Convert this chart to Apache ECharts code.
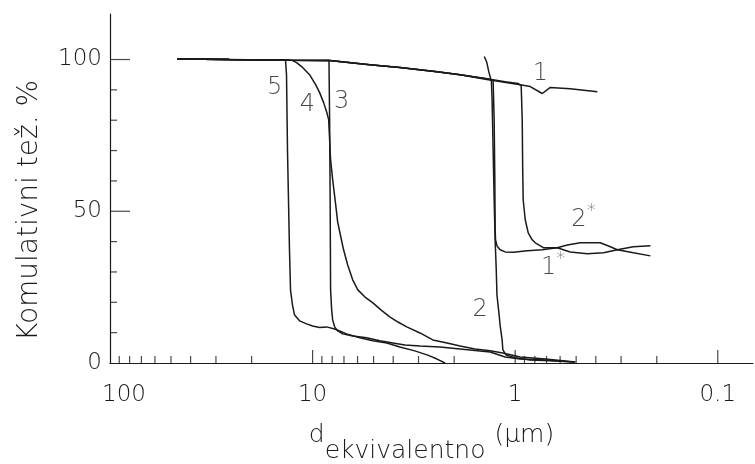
<!DOCTYPE html>
<html><head><meta charset="utf-8">
<script src="https://cdn.jsdelivr.net/npm/echarts@6/dist/echarts.min.js"></script>
<style>html,body{margin:0;padding:0;background:#fff}#c{width:755px;height:464px}</style>
</head><body><div id="c"></div>
<script>
// x: equivalent diameter (µm, log scale, reversed), y: cumulative weight %
const curve1 = [[46.6,100.2],[25.8,100],[13,99.8],[8.24,99.7],[5.22,98.3],[3.71,97.4],[2.43,96],[1.87,95],[1.38,93.4],[0.945,91.7],[0.843,91.1],[0.735,88.8],[0.671,90.8],[0.535,90.4],[0.393,89.4]];
const curve2 = [[1.42,101],[1.38,99],[1.35,96],[1.31,92.7],[1.3,86.8],[1.285,70.3],[1.27,53.8],[1.256,40.6],[1.24,30.7],[1.23,22.4],[1.2,15.8],[1.187,12.5],[1.16,7.6],[1.15,4.3],[1.108,2.6],[1.0,1.7],[0.843,1.0],[0.671,0.7],[0.505,0.3]];
const curve3 = [[46.6,100.2],[25.8,100],[13,99.8],[8.3,99.7],[8.24,80.2],[8.19,53.8],[8.15,24.1],[8.05,17.5],[7.96,14.2],[7.78,11.9],[7.52,10.6],[7.1,9.6],[6.34,8.9],[5.41,8.3],[4.66,7.3],[4.02,6.6],[3.5,5.9],[2.95,5.6],[2.35,5.3],[1.87,4.6],[1.33,3.6],[1.12,2.0],[0.945,1.3],[0.71,1.0],[0.516,0.3]];
const curve4 = [[46.6,100.2],[25.8,100],[12.7,99.8],[12.0,99.0],[11.2,97.4],[10.35,95],[9.66,91.7],[9.23,89.1],[8.82,85.8],[8.53,82.8],[8.33,80.2],[8.24,73.6],[8.15,67],[7.96,60.4],[7.69,52.1],[7.52,46.5],[7.26,41.6],[7.03,37.3],[6.71,32.3],[6.34,27.4],[5.98,24.1],[5.53,21.8],[5.04,19.8],[4.6,17.5],[4.16,15.2],[3.79,13.5],[3.43,11.9],[2.95,9.9],[2.55,7.6],[2.17,6.6],[1.87,5.6],[1.58,4.6],[1.33,4.0],[1.15,3.3],[0.945,2.0],[0.71,1.3],[0.505,0.3]];
const curve5 = [[46.6,100.2],[25.8,100],[13.6,99.8],[13.45,95],[13.3,70],[13.0,37],[12.85,24],[12.56,19],[12.27,15.8],[11.6,13.9],[10.7,12.9],[10,12.2],[9.23,11.7],[8.53,11.9],[7.78,11.2],[6.79,9.6],[5.85,8.3],[5.04,7.3],[4.3,6.6],[3.71,5.3],[3.13,4],[2.7,2.6],[2.43,1.3],[2.22,0]];
const curve1s = [[46.6,100.2],[25.8,100],[13,99.8],[8.24,99.7],[5.22,98.3],[3.71,97.4],[2.43,96],[1.87,95],[1.38,93.7],[1.285,93.1],[1.27,80.2],[1.26,60.4],[1.256,43.9],[1.25,40.6],[1.23,38.6],[1.187,37.3],[1.12,36.6],[1.02,36.5],[0.872,37],[0.735,37.3],[0.62,38],[0.535,36.6],[0.44,36],[0.366,36.3],[0.313,37.3],[0.261,36.3],[0.215,35.3]];
const curve2s = [[46.6,100.2],[25.8,100],[13,99.8],[8.24,99.7],[5.22,98.3],[3.71,97.4],[2.43,96],[1.87,95],[1.38,93.7],[1.12,92.7],[0.966,92.1],[0.934,91.4],[0.923,80.2],[0.918,63.7],[0.913,53.8],[0.892,47.2],[0.862,42.9],[0.824,40.6],[0.796,39.6],[0.726,38],[0.62,38],[0.553,38.9],[0.477,39.6],[0.38,39.6],[0.339,38.3],[0.313,37.3],[0.261,38.3],[0.215,38.6]];

const curveLabels = [
  {name:'1', value:[0.75, 95.4]},
  {name:'2', value:[1.49, 17.5]},
  {name:'3', value:[7.18, 86.1]},
  {name:'4', value:[10.6, 85.1]},
  {name:'5', value:[15.4, 90.8]},
  {name:'1*', value:[0.65, 31.4]},
  {name:'2*', value:[0.46, 47.2]}
];

const xTickLabels = [100, 10, 1, 0.1];
const yTickLabels = [0, 50, 100];
const xMinorTicks = [90,80,70,60,50,40,30,20,9,8,7,6,5,4,3,2,0.9,0.8,0.7,0.6,0.5,0.4,0.3,0.2];
const xMajorTicks = [10, 1, 0.1];
const yMinorTicks = [10,20,30,40,60,70,80,90];
const yMajorTicks = [50, 100];

const INK = '#1a1a1a';
const FONT = "'DejaVu Sans', sans-serif";
const W = 200;

function isIn(list, v) { return list.some(t => Math.abs(Math.log10(Math.max(v,1e-9)) - Math.log10(Math.max(t,1e-9))) < 1e-6); }

const curves = [curve1, curve2, curve3, curve4, curve5, curve1s, curve2s];
const names = ['1','2','3','4','5','1*','2*'];

const series = curves.map((d, i) => ({
  name: names[i], type: 'line', data: d, showSymbol: false, symbol: 'none',
  lineStyle: {color: INK, width: 1.5}, z: 3, silent: true
}));

series.push({
  type: 'scatter', data: xMinorTicks.map(v => [v, 0]), symbol: 'rect',
  symbolSize: [1.2, 7], symbolOffset: [0, -3.5], itemStyle: {color: INK}, clip: false, silent: true, z: 2
});
series.push({
  type: 'scatter', data: xMajorTicks.map(v => [v, 0]), symbol: 'rect',
  symbolSize: [1.2, 13], symbolOffset: [0, -6.5], itemStyle: {color: INK}, clip: false, silent: true, z: 2
});
series.push({
  type: 'scatter', data: yMinorTicks.map(v => [100, v]), symbol: 'rect',
  symbolSize: [7, 1.2], symbolOffset: [3.5, 0], itemStyle: {color: INK}, clip: false, silent: true, z: 2
});
series.push({
  type: 'scatter', data: yMajorTicks.map(v => [100, v]), symbol: 'rect',
  symbolSize: [20, 1.2], symbolOffset: [10, 0], itemStyle: {color: INK}, clip: false, silent: true, z: 2
});
series.push({
  type: 'scatter', data: curveLabels, symbolSize: 1, itemStyle: {color: 'rgba(0,0,0,0)'},
  clip: false, silent: true, z: 5,
  label: {
    show: true, position: 'inside',
    formatter: p => p.name.endsWith('*') ? '{a|' + p.name[0] + '}{s|*}' : '{a|' + p.name + '}',
    rich: {
      a: {fontSize: 24, fontFamily: FONT, fontWeight: W, color: INK},
      s: {fontSize: 18, fontFamily: FONT, fontWeight: W, color: INK, padding: [0, 0, 16, 0]}
    }
  }
});

const chart = echarts.init(document.getElementById('c'), null, {renderer: 'canvas'});
chart.setOption({
  animation: false,
  backgroundColor: '#fff',
  grid: {left: 110, right: 2, top: 14, bottom: 101, containLabel: false, outerBoundsMode: 'none'},
  xAxis: {
    type: 'log', logBase: 10, min: 0.067, max: 100, inverse: true,
    axisLine: {show: true, onZero: false, lineStyle: {color: INK, width: 1.2}},
    axisTick: {show: false}, splitLine: {show: false}, minorTick: {show: false},
    axisLabel: {
      margin: 21, color: INK, fontSize: 23, fontFamily: FONT, fontWeight: W,
      showMinLabel: true, showMaxLabel: true, hideOverlap: false,
      formatter: v => isIn(xTickLabels, v) ? (Math.abs(v - 100) < 1e-6 ? '{p|100}' : String(+v.toPrecision(3))) : '',
      rich: {p: {fontSize: 23, fontFamily: FONT, fontWeight: W, color: INK, padding: [0, 0, 0, 28]}}
    },
    name: '{d|d}{s|ekvivalentno}{u|(μm)}',
    nameLocation: 'middle', nameGap: 60,
    nameTextStyle: {
      color: INK,
      rich: {
        d: {fontSize: 25, fontFamily: FONT, fontWeight: W, color: INK, lineHeight: 26, verticalAlign: 'top'},
        s: {fontSize: 25, fontFamily: FONT, fontWeight: W, color: INK, lineHeight: 26, verticalAlign: 'top', padding: [16, 0, 0, 0]},
        u: {fontSize: 25, fontFamily: FONT, fontWeight: W, color: INK, lineHeight: 26, verticalAlign: 'top', padding: [0, 0, 0, 9]}
      }
    }
  },
  yAxis: {
    type: 'value', min: 0, max: 115, interval: 50,
    axisLine: {show: true, lineStyle: {color: INK, width: 1.2}},
    axisTick: {show: false}, splitLine: {show: false},
    axisLabel: {
      margin: 8, color: INK, fontSize: 23, fontFamily: FONT, fontWeight: W,
      formatter: v => yTickLabels.includes(v) ? String(v) : ''
    },
    name: 'Komulativni tež. %',
    nameLocation: 'middle', nameRotate: 90, nameGap: 66,
    nameTextStyle: {color: INK, fontSize: 28, fontFamily: FONT, fontWeight: W, padding: [0, 44, 0, 0]}
  },
  series: series
});
</script>
</body></html>
